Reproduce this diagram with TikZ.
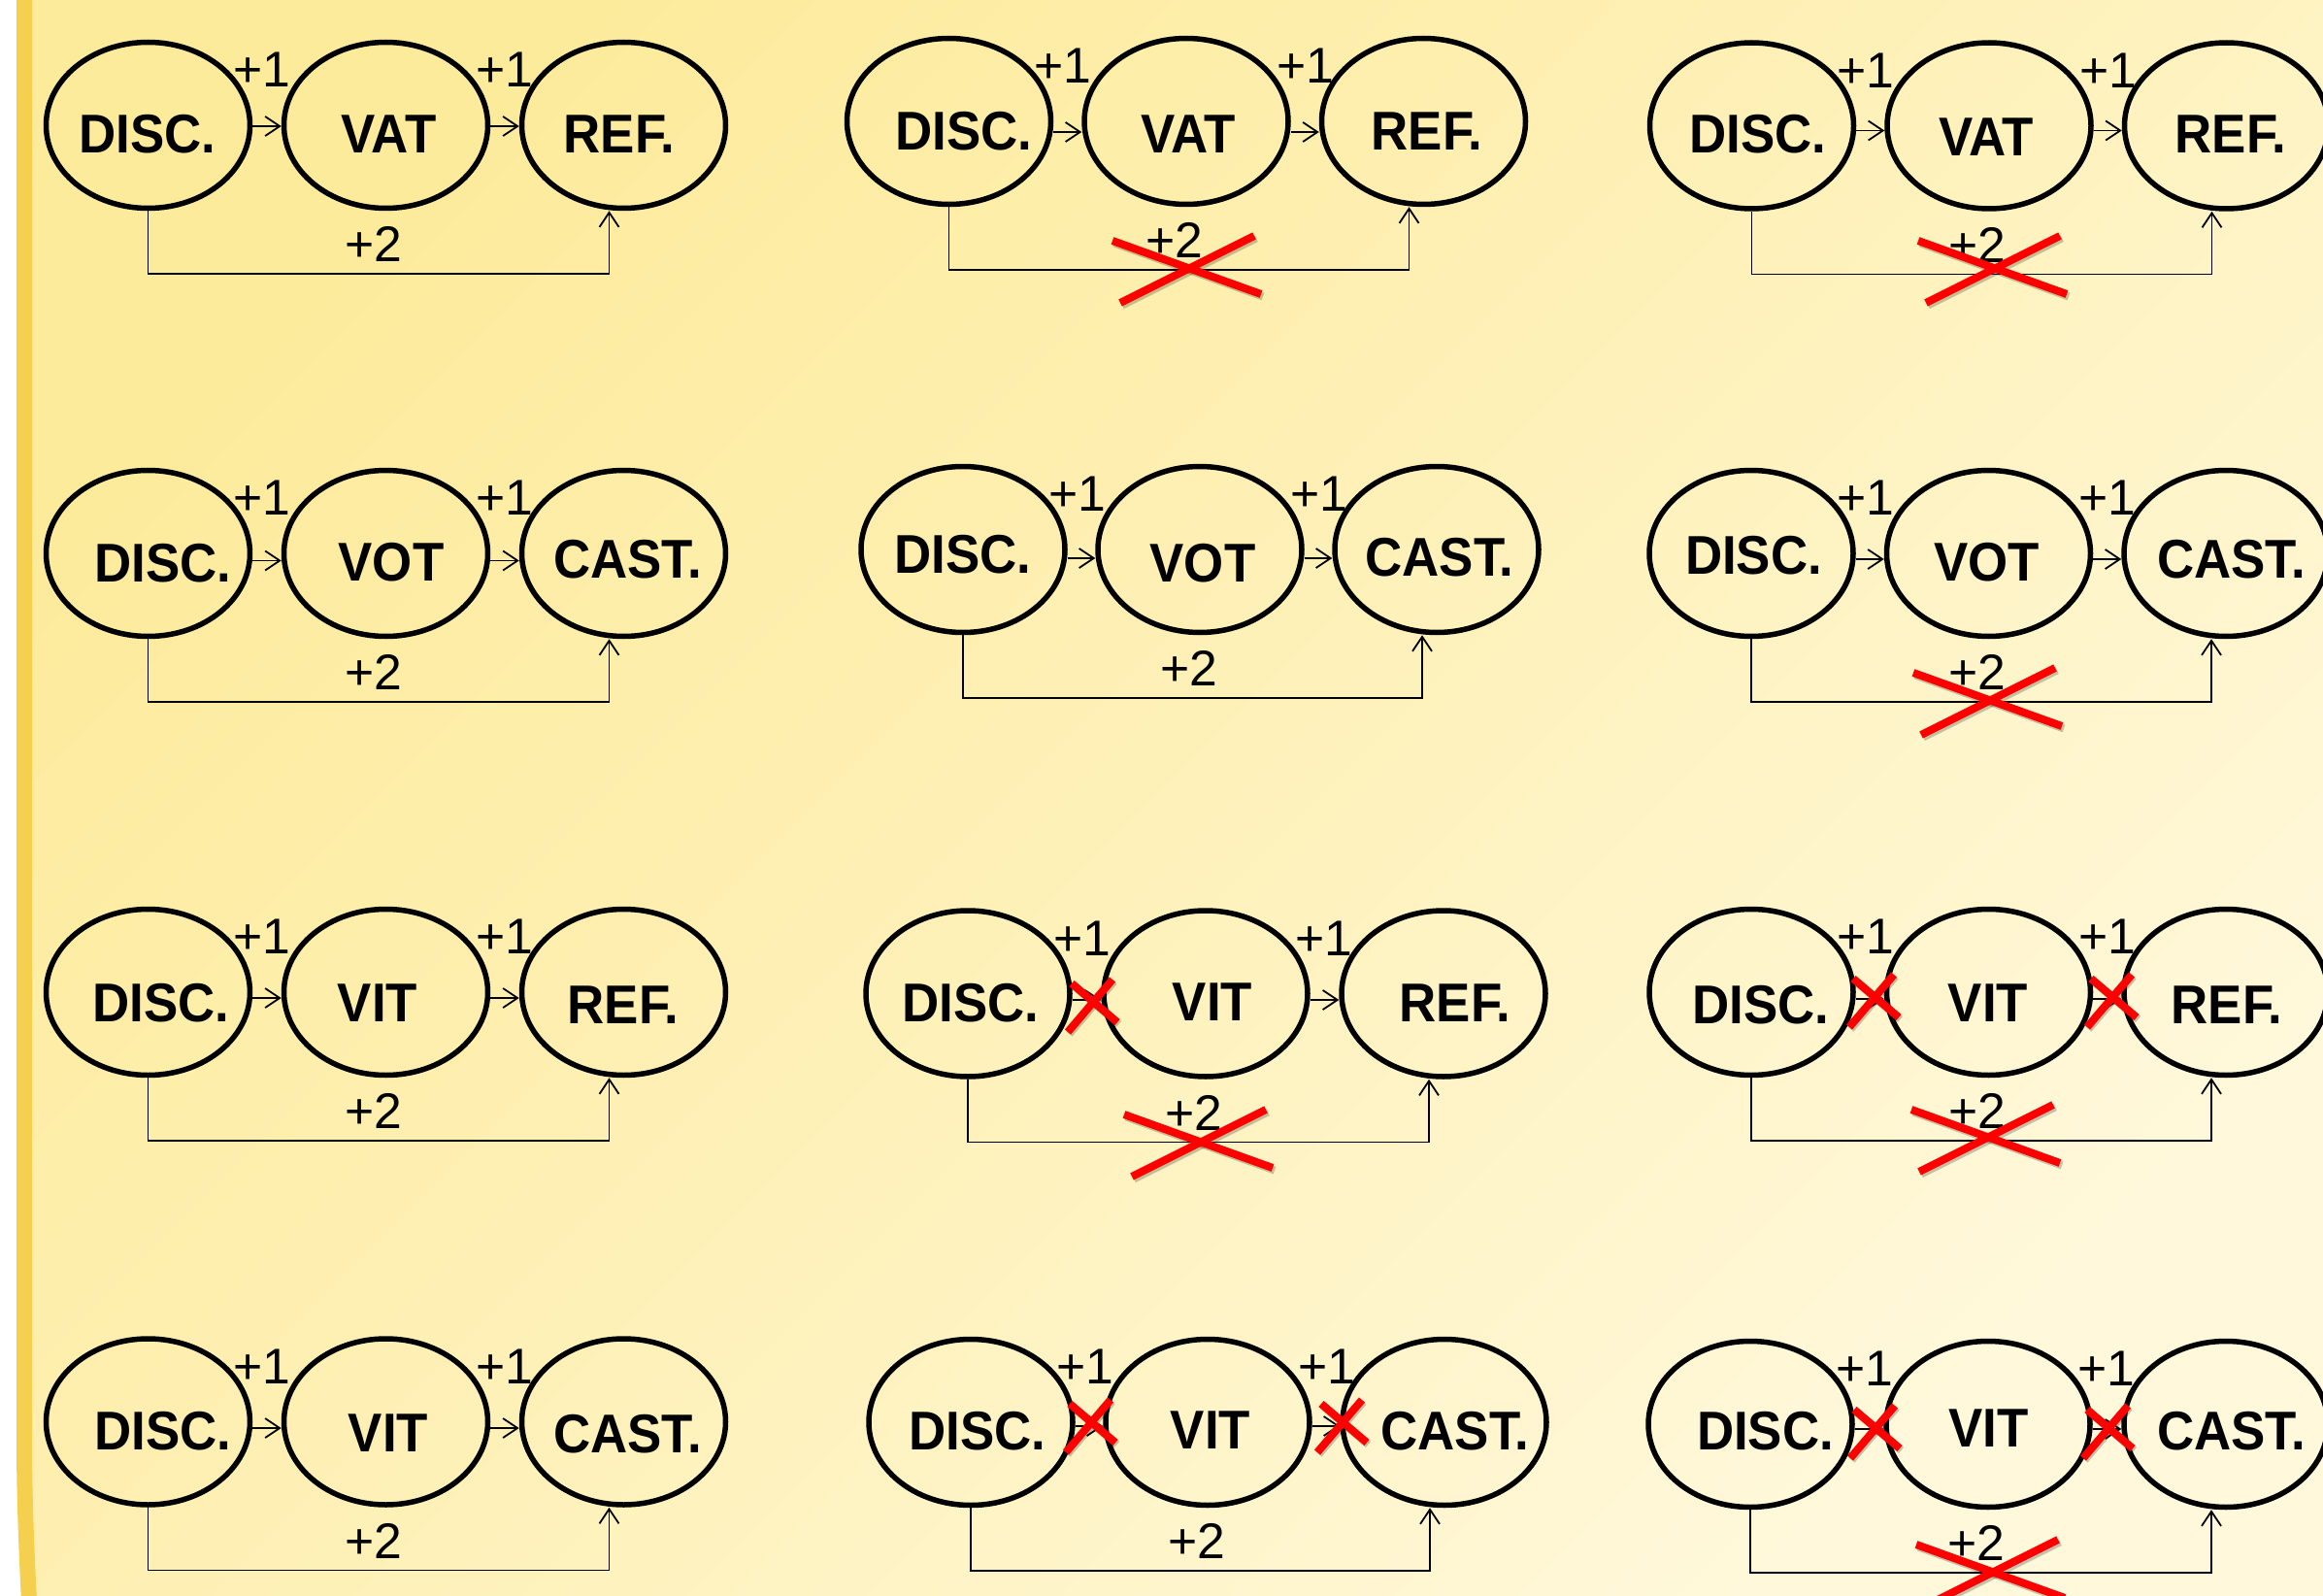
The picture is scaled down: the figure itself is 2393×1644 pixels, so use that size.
\documentclass[tikz,border=0pt]{standalone}
\usepackage{fontspec}
\setmainfont{Liberation Sans}
\newfontfamily\wordfont{Liberation Sans}[FakeStretch=0.94]
\usetikzlibrary{shapes.geometric,arrows.meta}
\definecolor{bgA}{HTML}{FDEB9C}
\definecolor{bgM}{HTML}{FEF1B9}
\definecolor{bgB}{HTML}{FFF8DA}
\definecolor{goldstrip}{HTML}{F4D04E}
\definecolor{xred}{HTML}{FF0000}
\tikzset{
  ell/.style={ellipse, draw=black, line width=0.55mm, minimum width=21mm, minimum height=17.1mm, inner sep=0pt},
  word/.style={font=\wordfont\bfseries\fontsize{16pt}{18pt}\selectfont, inner sep=0pt},
  num/.style={font=\fontsize{14.7pt}{16pt}\selectfont, inner sep=0pt},
  conn/.style={draw=black, line width=0.18mm, -{Straight Barb[length=1.5mm,width=2mm]}},
  cross/.style={draw=xred, line width=0.8mm},
  crossshadow/.style={draw=black, opacity=0.22, line width=0.8mm},
}
\newcommand\DrawTrio[5]{%
  \node[ell] (#1a) at (#2,#3) {};
  \node[ell] (#1b) at ({#2+#4},#3) {};
  \node[ell] (#1c) at ({#2+2*#4},#3) {};
  \draw[conn] ([shift={(0,#5)}]#1a.east) -- ([shift={(0,#5)}]#1b.west);
  \draw[conn] ([shift={(0,#5)}]#1b.east) -- ([shift={(0,#5)}]#1c.west);
  \node[num] (#1p) at ({#2+117.5},{#3-57}) {+1};
  \node[num] (#1q) at ({#2+367},{#3-57}) {+1};
  \coordinate (#1r) at ({#2+2*#4-15},{#3+153});
  \draw[conn] (#1a.south) |- (#1r) -- (#1r |- #1c.south);
  \node[num] (#1s) at ({#2+232.5},{#3+122.5}) {+2};
}
\newcommand\BigCross[2]{%
  \draw[crossshadow] ({#1-76+2},{#2-29+2.5}) -- ({#1+77+2},{#2+26+2.5});
  \draw[crossshadow] ({#1-68+2},{#2+35+2.5}) -- ({#1+70+2},{#2-34+2.5});
  \draw[cross] ({#1-76},{#2-29}) -- ({#1+77},{#2+26});
  \draw[cross] ({#1-68},{#2+35}) -- ({#1+70},{#2-34});
}
\newcommand\SmallCross[2]{%
  \draw[crossshadow] ({#1-21+1.5},{#2-22+2}) -- ({#1+26+1.5},{#2+18+2});
  \draw[crossshadow] ({#1-25+1.5},{#2+28+2}) -- ({#1+21+1.5},{#2-26+2});
  \draw[cross] ({#1-21},{#2-22}) -- ({#1+26},{#2+18});
  \draw[cross] ({#1-25},{#2+28}) -- ({#1+21},{#2-26});
}
\begin{document}
\begin{tikzpicture}[x=0.1mm,y=-0.1mm]
\useasboundingbox (0,0) rectangle (2393,1644);
% background panel
\fill[white] (0,0) rectangle (2393,1644);
\shade[top color=bgA, bottom color=bgB, middle color=bgM, shading angle=45]
  (25,0) -- (2393,0) -- (2393,1644) -- (30,1644) .. controls (27,1590) and (25,1540) .. (25,1480) -- cycle;
\draw[goldstrip, line width=1.6mm] (25,-5) -- (25,1480) .. controls (25,1540) and (27,1590) .. (30,1650);

% diagrams: id, x of first ellipse, y, spacing, arrow offset
\DrawTrio{A}{152.5}{129}{245}{1}
\DrawTrio{B}{977.5}{125}{244.5}{11}
\DrawTrio{C}{1804.5}{129.5}{244.5}{5}
\DrawTrio{D}{152.5}{570}{245}{7.5}
\DrawTrio{E}{992}{566}{244}{9}
\DrawTrio{F}{1804}{570}{244.5}{6}
\DrawTrio{G}{152.5}{1022}{245}{6}
\DrawTrio{H}{997}{1023.5}{245}{6.5}
\DrawTrio{I}{1804}{1022}{244.5}{7}
\DrawTrio{J}{152.5}{1464.5}{245}{6.5}
\DrawTrio{K}{1000}{1465}{244}{4}
\DrawTrio{L}{1803}{1467}{245}{5}

% row 1 texts
\node[word] (tAa) at (152,138) {DISC.};
\node[word] (tAb) at (400.5,138) {VAT};
\node[word] (tAc) at (638,138) {REF.};
\node[word] (tBa) at (993,135) {DISC.};
\node[word] (tBb) at (1224,138) {VAT};
\node[word] (tBc) at (1470,135) {REF.};
\node[word] (tCa) at (1811,138) {DISC.};
\node[word] (tCb) at (2046,141.5) {VAT};
\node[word] (tCc) at (2298,138) {REF.};
% row 2 texts
\node[word] (tDa) at (168,580) {DISC.};
\node[word] (tDb) at (403,579) {VOT};
\node[word] (tDc) at (646.5,576) {CAST.};
\node[word] (tEa) at (992,571) {DISC.};
\node[word] (tEb) at (1239,580) {VOT};
\node[word] (tEc) at (1483,574) {CAST.};
\node[word] (tFa) at (1806.5,572) {DISC.};
\node[word] (tFb) at (2046.5,579) {VOT};
\node[word] (tFc) at (2298.5,576) {CAST.};
% row 3 texts
\node[word] (tGa) at (166,1033) {DISC.};
\node[word] (tGb) at (389,1033) {VIT};
\node[word] (tGc) at (642,1035) {REF.};
\node[word] (tHa) at (1000,1033.5) {DISC.};
\node[word] (tHb) at (1249,1032) {VIT};
\node[word] (tHc) at (1499,1033) {REF.};
\node[word] (tIa) at (1814,1035) {DISC.};
\node[word] (tIb) at (2048,1033) {VIT};
\node[word] (tIc) at (2294,1035) {REF.};
% row 4 texts
\node[word] (tJa) at (168,1474) {DISC.};
\node[word] (tJb) at (400,1476) {VIT};
\node[word] (tJc) at (646.5,1477) {CAST.};
\node[word] (tKa) at (1007,1474) {DISC.};
\node[word] (tKb) at (1247,1473) {VIT};
\node[word] (tKc) at (1499,1474) {CAST.};
\node[word] (tLa) at (1818.5,1474) {DISC.};
\node[word] (tLb) at (2048.5,1471) {VIT};
\node[word] (tLc) at (2298.5,1474) {CAST.};

% red crosses
\BigCross{1222}{277}
\BigCross{2052}{277}
\BigCross{2047}{722}
\BigCross{1234}{1177}
\BigCross{2045}{1172}
\BigCross{2050}{1620}
\SmallCross{1125}{1035}
\SmallCross{1930}{1030}
\SmallCross{2175}{1030}
\SmallCross{1123}{1468}
\SmallCross{1382}{1468}
\SmallCross{1931}{1474}
\SmallCross{2171}{1474}
\end{tikzpicture}
\end{document}
